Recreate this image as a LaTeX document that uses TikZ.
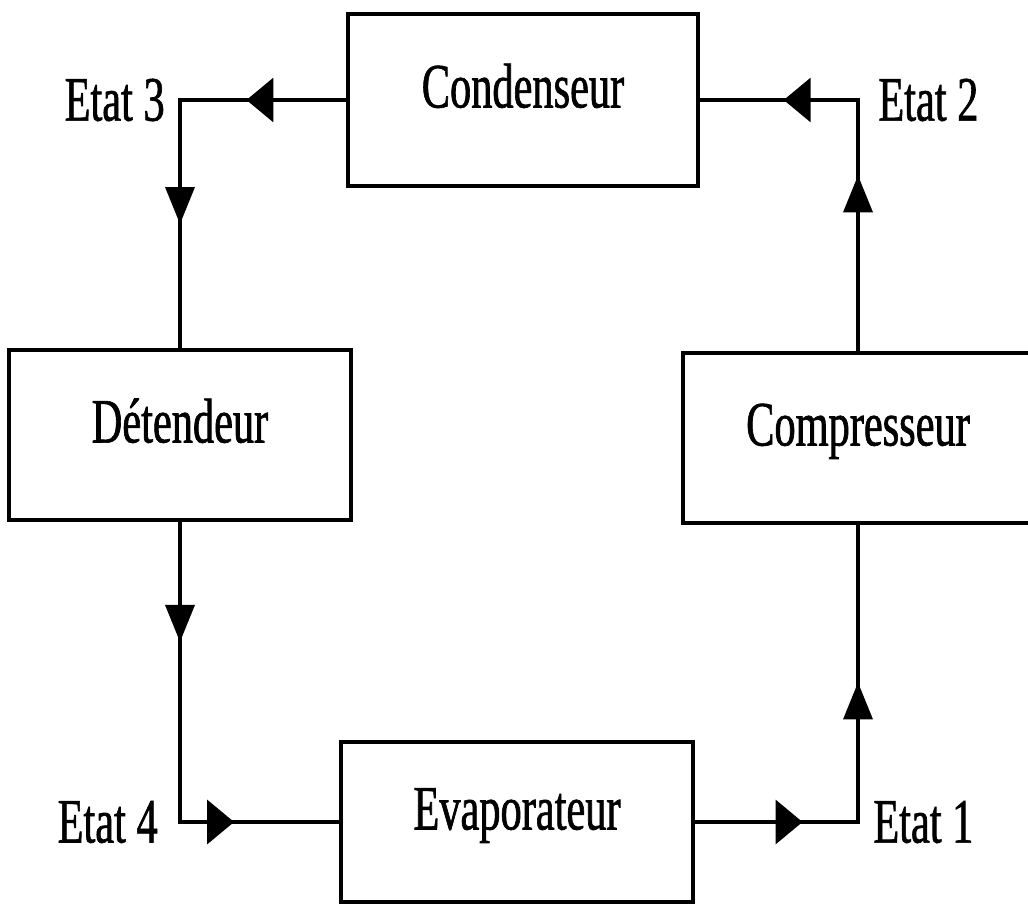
\documentclass[tikz,border=0pt]{standalone}
\usepackage{fontspec}
\setmainfont{Liberation Serif}[FakeStretch=0.67, FakeBold=1]
\usetikzlibrary{arrows.meta, positioning, decorations.markings}

\begin{document}
\begin{tikzpicture}[x=0.02cm, y=-0.02cm,
        bloc/.style={rectangle, draw, line width=2.2pt, inner sep=0pt, font=\fontsize{36}{40}\selectfont, text height=0.9cm, text depth=0.6cm},
        etat/.style={inner sep=0pt, font=\fontsize{36}{40}\selectfont},
        ligne/.style={line width=2pt, line cap=rect},
        sensh/.style={postaction={decorate}, decoration={markings, mark=at position #1 with {\arrow{Triangle[length=0.54cm, width=0.88cm]}}}},
        sensv/.style={postaction={decorate}, decoration={markings, mark=at position #1 with {\arrow{Triangle[length=0.74cm, width=0.58cm]}}}}]
        \useasboundingbox (0,0) rectangle (1028,906);
        % les quatre organes
        \node[bloc, minimum width=7cm, minimum height=3.44cm] (cond) at (523,100) {Condenseur};
        \node[bloc, minimum width=6.84cm, minimum height=3.4cm] (det) at (180,435) {Détendeur};
        \node[bloc, minimum width=7cm, minimum height=3.4cm] (comp) at (858,438) {Compresseur};
        \node[bloc, minimum width=7.04cm, minimum height=3.2cm] (evap) at (517,822) {Evaporateur};
        % les coins du circuit
        \coordinate (e1) at (858,822);
        \coordinate (e2) at (858,100);
        \coordinate (e3) at (180,100);
        \coordinate (e4) at (180,822);
        \node[etat, left=0.3cm of e3] (t3) {Etat 3};
        \node[etat, right=0.4cm of e2] (t2) {Etat 2};
        \node[etat, left=0.44cm of e4] (t4) {Etat 4};
        \node[etat, right=0.3cm of e1] (t1) {Etat 1};
        % le fluide
        \draw[ligne, sensh=0.6] (cond.west) -- (e3);
        \draw[ligne, sensv=0.5] (e3) -- (det.north);
        \draw[ligne, sensv=0.4] (det.south) -- (e4);
        \draw[ligne, sensh=0.34] (e4) -- (evap.west);
        \draw[ligne, sensh=0.66] (evap.east) -- (e1);
        \draw[ligne, sensv=0.47] (e1) -- (comp.south);
        \draw[ligne, sensv=0.7] (comp.north) -- (e2);
        \draw[ligne, sensh=0.47] (e2) -- (cond.east);
\end{tikzpicture}
\end{document}
